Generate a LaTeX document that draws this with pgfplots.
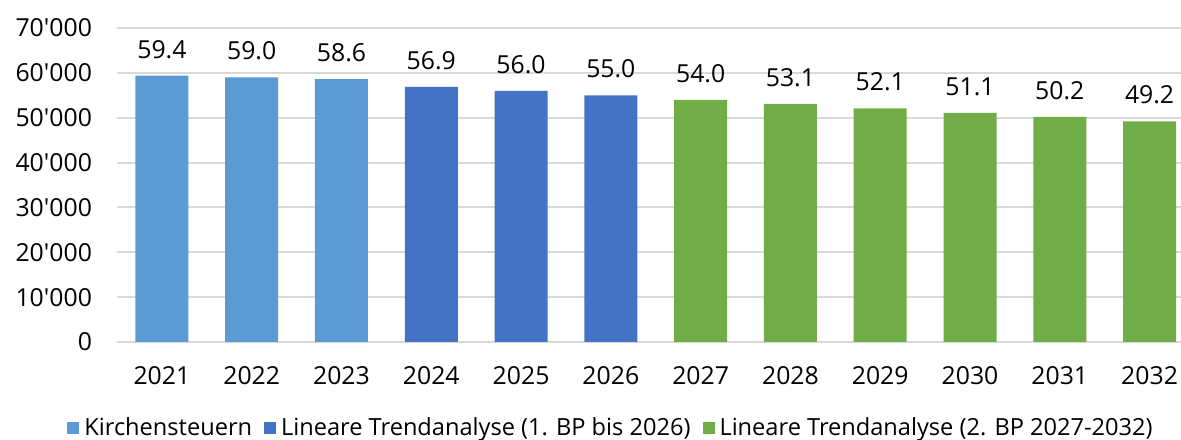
\documentclass[border=0pt]{standalone}
\usepackage{fontspec}
\setmainfont{Open Sans}
\usepackage{pgfplots}
\pgfplotsset{compat=1.18}
\definecolor{c1}{HTML}{5B9BD5}
\definecolor{c2}{HTML}{4472C4}
\definecolor{c3}{HTML}{70AD47}
\definecolor{gridgray}{HTML}{D9D9D9}
\begin{document}
\begin{tikzpicture}
\begin{axis}[name=ax, scale only axis, width=532pt, height=157pt,
  xmin=-0.5, xmax=11.35, ymin=0, ymax=70000,
  ytick={0,10000,20000,30000,40000,50000,60000,70000},
  xtick={0,1,2,3,4,5,6,7,8,9,10,11},
  xticklabels={2021,2022,2023,2024,2025,2026,2027,2028,2029,2030,2031,2032},
  ybar, bar width=26.5pt, bar shift=0pt,
  axis line style={draw=none}, major tick length=0pt,
  ymajorgrids, grid style={color=gridgray, line width=1pt},
  tick label style={font=\fontsize{12.4}{14}\selectfont, text=black},
  yticklabel style={xshift=-9pt},
  xticklabel style={yshift=-8.5pt},
  /pgf/number format/assume math mode=true,
  /pgf/number format/1000 sep={\textquotesingle},
  scaled y ticks=false,
  point meta=explicit symbolic,
  nodes near coords={\pgfplotspointmeta},
  every node near coord/.append style={font=\fontsize{12.4}{14}\selectfont, text=black, yshift=5pt},
  legend columns=-1,
  legend image code/.code={\fill[#1] (0pt,-3pt) rectangle (6pt,3pt);},
  legend style={at={(0,0)}, anchor=west, xshift=-25pt, yshift=-43pt,
    draw=none, fill=none, inner sep=0pt,
    font=\fontsize{11.8}{14}\selectfont,
    nodes={inner xsep=2.5pt},
    /tikz/every even column/.append style={column sep=3.5pt}},
]
\addplot[fill=c1, draw=none] coordinates {(0,59400) [59.4] (1,59000) [59.0] (2,58600) [58.6]};
\addplot[fill=c2, draw=none] coordinates {(3,56900) [56.9] (4,56000) [56.0] (5,55000) [55.0]};
\addplot[fill=c3, draw=none] coordinates {(6,54000) [54.0] (7,53100) [53.1] (8,52100) [52.1] (9,51100) [51.1] (10,50200) [50.2] (11,49200) [49.2]};
\legend{Kirchensteuern, Lineare Trendanalyse (1. BP bis 2026), Lineare Trendanalyse (2. BP 2027-2032)}
\end{axis}
\pgfresetboundingbox
\path ([shift={(-58.5pt,-49pt)}]ax.south west) rectangle ([shift={(0pt,14pt)}]ax.north east);
\end{tikzpicture}
\end{document}
